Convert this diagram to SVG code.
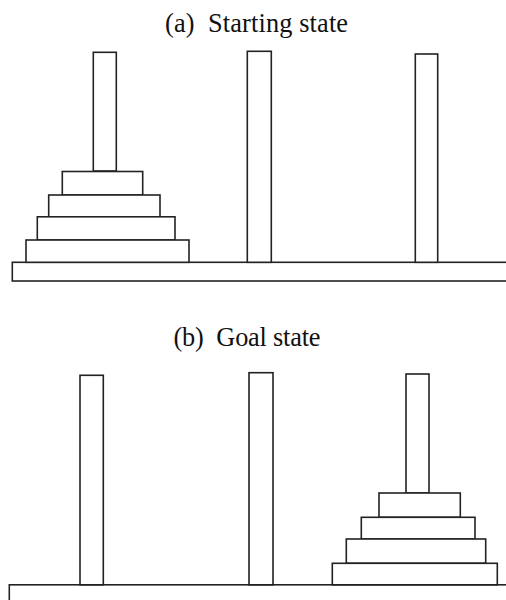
<svg xmlns="http://www.w3.org/2000/svg" width="506" height="600" viewBox="0 0 506 600">
<style>
.s{fill:#ffffff;stroke:#222222;stroke-width:1.6}
.t{font-family:"Liberation Serif","Times New Roman",serif;font-size:26.3px;fill:#111111}
</style>
<rect x="0" y="0" width="506" height="600" fill="#ffffff"/>
<g id="title-a"><text class="t" x="165" y="31.5" textLength="183" xml:space="preserve">(a)  Starting state</text></g>
<g id="start-state">
  <rect id="a-base" class="s" x="12.3" y="262.3" width="510" height="18.7"/>
  <rect id="a-peg1" class="s" x="93.3" y="52.3" width="23" height="118.7"/>
  <rect id="a-peg2" class="s" x="247.3" y="51.3" width="24" height="211"/>
  <rect id="a-peg3" class="s" x="415.3" y="54" width="22.4" height="208.3"/>
  <rect id="a-disk1" class="s" x="62.3" y="171.5" width="80.4" height="23.5"/>
  <rect id="a-disk2" class="s" x="48.7" y="195" width="111.3" height="21.8"/>
  <rect id="a-disk3" class="s" x="37.3" y="216.8" width="137.7" height="23.2"/>
  <rect id="a-disk4" class="s" x="26" y="240" width="163" height="22.3"/>
</g>
<g id="title-b"><text class="t" x="173.5" y="346" textLength="147" xml:space="preserve">(b)  Goal state</text></g>
<g id="goal-state">
  <rect id="b-base" class="s" x="9.3" y="584.8" width="510" height="30"/>
  <rect id="b-peg1" class="s" x="80" y="375.3" width="23.3" height="209.5"/>
  <rect id="b-peg2" class="s" x="249" y="372.7" width="24" height="212.1"/>
  <rect id="b-peg3" class="s" x="406" y="374" width="23" height="119"/>
  <rect id="b-disk1" class="s" x="379" y="493" width="81.3" height="24.3"/>
  <rect id="b-disk2" class="s" x="361.3" y="517.3" width="113.7" height="21.7"/>
  <rect id="b-disk3" class="s" x="346.3" y="539" width="139.4" height="24.3"/>
  <rect id="b-disk4" class="s" x="332.3" y="563.3" width="165" height="21.5"/>
</g>
<g id="connectors"/>
</svg>
